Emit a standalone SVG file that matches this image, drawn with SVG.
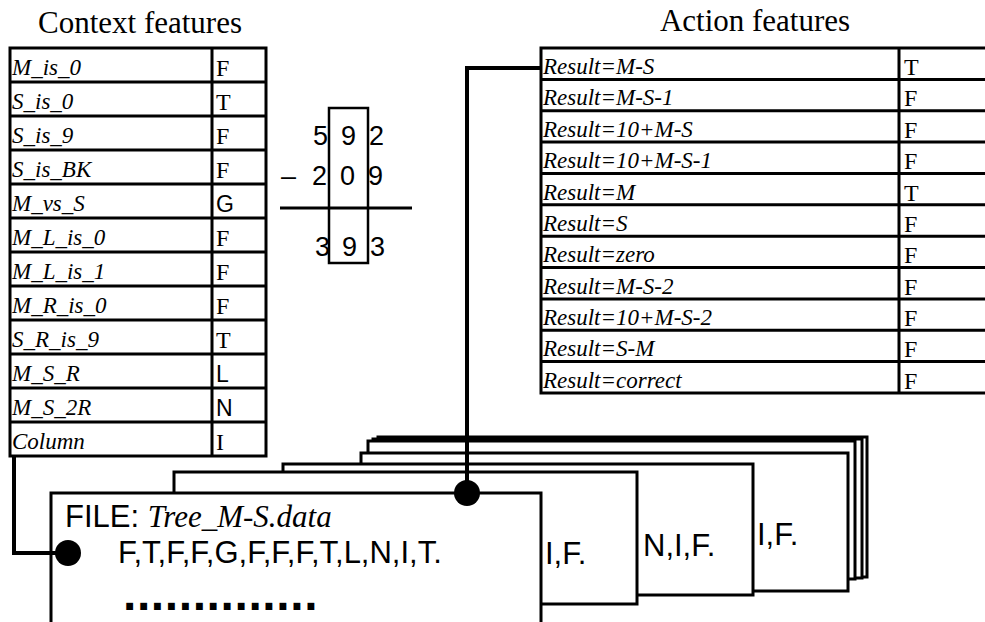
<svg xmlns="http://www.w3.org/2000/svg" width="985" height="622" viewBox="0 0 985 622">
<style>
.cell{fill:#fff;stroke:#000;stroke-width:3}
.ln{stroke:#000;stroke-width:3;fill:none}
.lab{font-family:"Liberation Serif",serif;font-style:italic;font-size:23px}
.val{font-family:"Liberation Serif",serif;font-size:24px}
.vals{font-family:"Liberation Sans",sans-serif;font-size:23px}
.title{font-family:"Liberation Serif",serif;font-size:31px;text-anchor:middle}
.card{fill:#fff;stroke:#000;stroke-width:3}
.big{font-family:"Liberation Sans",sans-serif;font-size:31px}
.dots{font-family:"Liberation Sans",sans-serif;font-size:48px;font-weight:bold;letter-spacing:0.6px}
.dig{font-family:"Liberation Sans",sans-serif;font-size:27px}
.conn{fill:none;stroke:#000;stroke-width:4}
</style>
<rect width="985" height="622" fill="#fff"/>
<g id="context-features">
<text class="title" x="140" y="33">Context features</text>
<rect class="cell" x="10" y="48" width="256" height="408"/>
<path class="ln" d="M212 48V456M10 82H266M10 116H266M10 150H266M10 184H266M10 218H266M10 252H266M10 286H266M10 320H266M10 354H266M10 388H266M10 422H266"/>
<g class="lab">
<text x="12" y="75">M_is_0</text>
<text x="12" y="109">S_is_0</text>
<text x="12" y="143">S_is_9</text>
<text x="12" y="177">S_is_BK</text>
<text x="12" y="211">M_vs_S</text>
<text x="12" y="245">M_L_is_0</text>
<text x="12" y="279">M_L_is_1</text>
<text x="12" y="313">M_R_is_0</text>
<text x="12" y="347">S_R_is_9</text>
<text x="12" y="381">M_S_R</text>
<text x="12" y="415">M_S_2R</text>
<text x="12" y="449">Column</text>
</g>
<text class="val" x="216" y="76">F</text>
<text class="val" x="216" y="110">T</text>
<text class="val" x="216" y="144">F</text>
<text class="val" x="216" y="178">F</text>
<text class="vals" x="216" y="212">G</text>
<text class="val" x="216" y="246">F</text>
<text class="val" x="216" y="280">F</text>
<text class="val" x="216" y="314">F</text>
<text class="val" x="216" y="348">T</text>
<text class="vals" x="216" y="382">L</text>
<text class="vals" x="216" y="416">N</text>
<text class="val" x="216" y="450">I</text>
</g>
<g id="subtraction">
<rect x="329" y="108" width="39" height="155" fill="none" stroke="#000" stroke-width="2.5"/>
<line x1="280" y1="208" x2="412" y2="208" stroke="#000" stroke-width="3"/>
<text class="dig" x="313 341 369" y="145">592</text>
<text class="dig" x="281" y="185">–</text>
<text class="dig" x="312 340 368" y="185">209</text>
<text class="dig" x="315 342 370" y="256">393</text>
</g>
<g id="action-features">
<text class="title" x="755" y="31">Action features</text>
<rect class="cell" x="541" y="48" width="460" height="345"/>
<path class="ln" d="M899 48V393M541 79.4H990M541 110.7H990M541 142.1H990M541 173.5H990M541 204.8H990M541 236.2H990M541 267.5H990M541 298.9H990M541 330.3H990M541 361.6H990"/>
<g class="lab">
<text x="543" y="74">Result=M-S</text>
<text x="543" y="105.4">Result=M-S-1</text>
<text x="543" y="136.7">Result=10+M-S</text>
<text x="543" y="168.1">Result=10+M-S-1</text>
<text x="543" y="199.5">Result=M</text>
<text x="543" y="230.8">Result=S</text>
<text x="543" y="262.2">Result=zero</text>
<text x="543" y="293.5">Result=M-S-2</text>
<text x="543" y="324.9">Result=10+M-S-2</text>
<text x="543" y="356.3">Result=S-M</text>
<text x="543" y="387.6">Result=correct</text>
</g>
<g class="val">
<text x="904" y="75">T</text>
<text x="904" y="106.4">F</text>
<text x="904" y="137.7">F</text>
<text x="904" y="169.1">F</text>
<text x="904" y="200.5">T</text>
<text x="904" y="231.8">F</text>
<text x="904" y="263.2">F</text>
<text x="904" y="294.5">F</text>
<text x="904" y="325.9">F</text>
<text x="904" y="357.3">F</text>
<text x="904" y="388.6">F</text>
</g>
</g>
<g id="file-stack">
<rect class="card" x="378" y="437" width="489" height="140"/>
<rect class="card" x="373" y="439" width="489" height="139"/>
<rect class="card" x="368" y="441" width="487" height="138"/>
<rect class="card" x="361" y="453" width="487" height="138"/>
<text class="big" x="757" y="545">I,F.</text>
<rect class="card" x="283" y="464" width="470" height="131"/>
<text class="big" x="643" y="556">N,I,F.</text>
<rect class="card" x="174" y="472" width="463" height="132"/>
<text class="big" x="545" y="564">I,F.</text>
</g>
<g id="file-front">
<rect class="card" x="51" y="493" width="490" height="140"/>
<text class="big" x="65" y="527">FILE: <tspan font-family="Liberation Serif, serif" font-style="italic">Tree_M-S.data</tspan></text>
<text class="big" x="118" y="563">F,T,F,F,G,F,F,F,T,L,N,I,T.</text>
<text class="dots" x="123" y="610">..............</text>
</g>
<g id="connectors">
<path class="conn" d="M14 456V553H68"/>
<path class="conn" d="M467 493V68H541"/>
<circle cx="68" cy="553" r="13"/>
<circle cx="467" cy="493" r="13"/>
</g>
</svg>
